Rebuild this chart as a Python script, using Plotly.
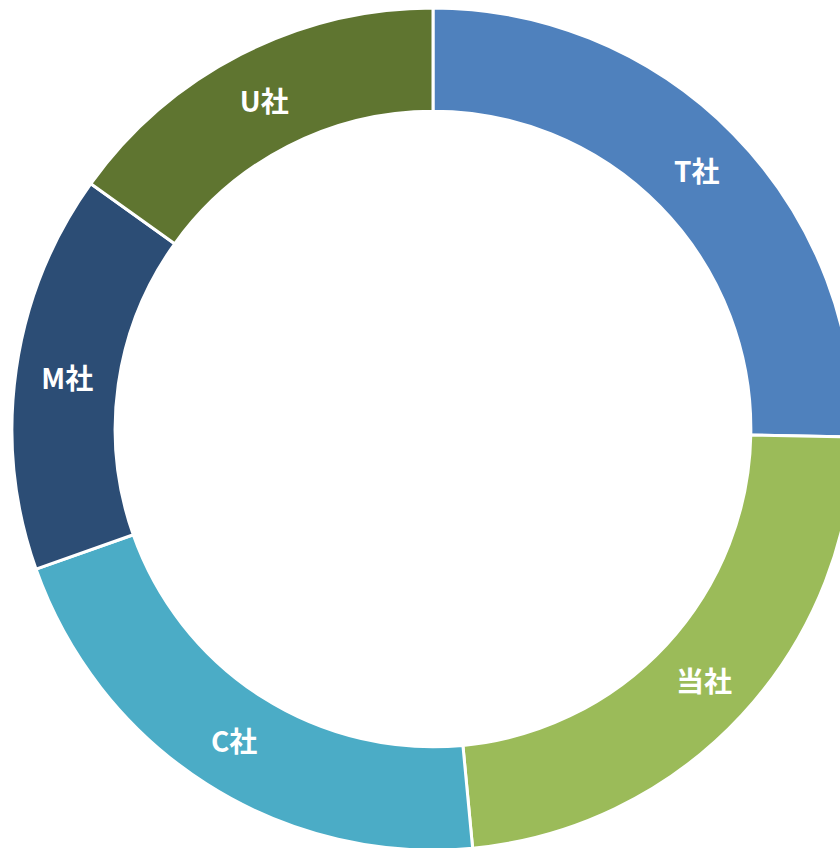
import plotly.graph_objects as go

labels = ["T社", "当社", "C社", "M社", "U社"]
values = [25.3, 23.2, 21.1, 15.3, 15.1]
colors = ["#4F81BD", "#9BBB59", "#4BACC6", "#2C4D75", "#5F7530"]

W, H = 866, 850
fig = go.Figure(go.Pie(
    labels=labels,
    values=values,
    sort=False,
    direction="clockwise",
    rotation=0,
    hole=0.755,
    marker=dict(colors=colors, line=dict(color="white", width=3)),
    textinfo="label",
    textposition="inside",
    insidetextorientation="horizontal",
    textfont=dict(family="Noto Sans CJK JP", size=28, color="white", weight="bold"),
    domain=dict(x=[12 / W, 854 / W], y=[0, 842 / H]),
    showlegend=False,
))
fig.update_layout(
    width=W, height=H, autosize=False,
    margin=dict(l=0, r=0, t=0, b=0),
    paper_bgcolor="white", plot_bgcolor="white",
)
fig.write_html(
    "out.html",
    config={"displayModeBar": False},
    post_script="document.body.style.overflow='hidden';document.documentElement.style.overflow='hidden';document.body.style.margin='0';",
)
